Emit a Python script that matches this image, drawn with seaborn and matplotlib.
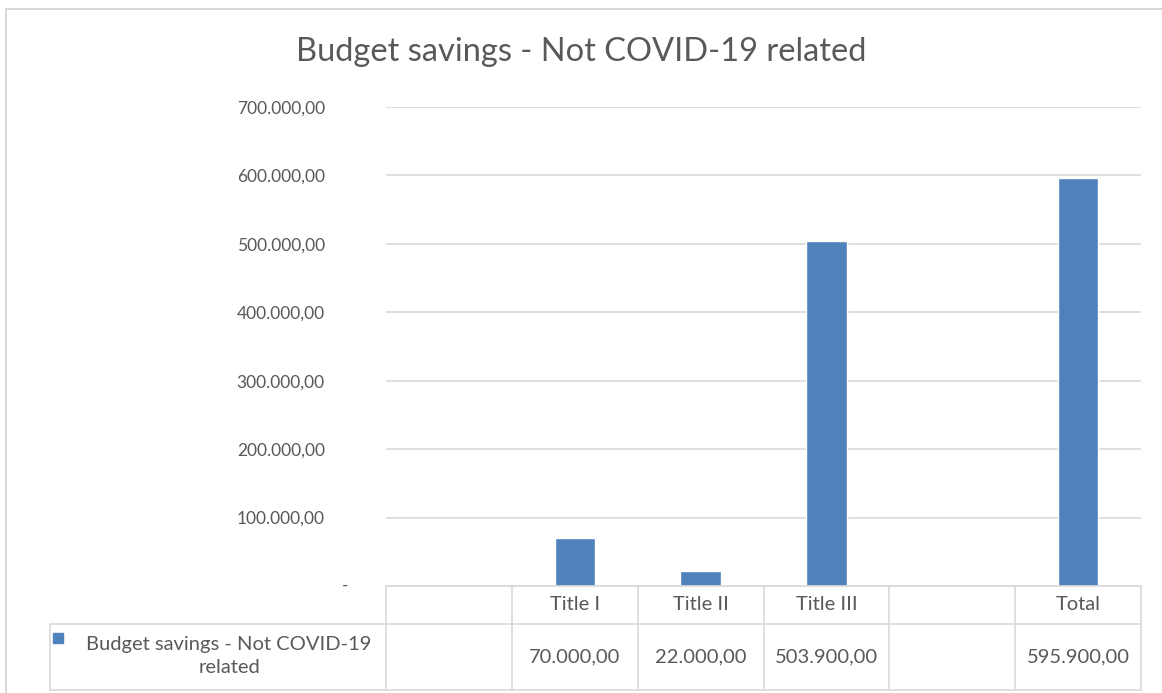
import matplotlib.pyplot as plt
import matplotlib.ticker as mticker
import numpy as np
import pandas as pd
import seaborn as sns
from matplotlib.patches import Rectangle

# data (blank category slots have no value)
categories = ["", "Title I", "Title II", "Title III", " ", "Total"]
savings = [np.nan, 70000.00, 22000.00, 503900.00, np.nan, 595900.00]
series_name = "Budget savings - Not COVID-19 related"
chart_title = "Budget savings - Not COVID-19 related"
y_ticks = [0, 100000, 200000, 300000, 400000, 500000, 600000, 700000]

TEXT = "#595959"
GRID = "#d9d9d9"
BAR = "#4f81bd"

sns.set_theme(style="white")
plt.rcParams["font.family"] = ["Lato", "DejaVu Sans"]


def eu_fmt(v, pos=None):
    if v == 0:
        return "-"
    s = f"{v:,.2f}"
    return s.replace(",", "X").replace(".", ",").replace("X", ".")


def tick_fmt(v, pos=None):
    # zero is drawn separately (Excel accounting dash sits closer to the axis)
    return "" if v == 0 else eu_fmt(v)


df = pd.DataFrame({"category": categories, "value": savings})

fig = plt.figure(figsize=(11.62, 6.93), dpi=100)
ax = fig.add_axes([386 / 1162, 1 - 586 / 693, 755 / 1162, 479 / 693])

sns.barplot(data=df, x="category", y="value", order=categories, color=BAR,
            width=0.32, saturation=1, ax=ax, errorbar=None)

ax.set_ylim(0, 700000)
ax.set_xlim(-0.5, len(categories) - 0.5)
ax.set_yticks(y_ticks)
ax.yaxis.set_major_formatter(mticker.FuncFormatter(tick_fmt))
ax.tick_params(axis="y", length=0, pad=44, labelsize=12.5, labelcolor=TEXT)
ax.set_xticks([])
ax.set_xlabel("")
ax.set_ylabel("")
ax.yaxis.grid(True, color=GRID, linewidth=1.2)
ax.set_axisbelow(True)
for sp in ax.spines.values():
    sp.set_visible(False)

ax.text((345 - 386) / 755, y_ticks[0], eu_fmt(y_ticks[0]),
        transform=ax.get_yaxis_transform(), ha="center", va="center",
        fontsize=12.5, color=TEXT)

fig.text(0.5, 1 - 52 / 693, chart_title, ha="center", va="center",
         fontsize=23.5, color=TEXT)

# data table below the plot
tr = ax.get_xaxis_transform()
row1 = -38 / 479
row2 = -104 / 479
legend_left = (50 - 386) / 755
n = len(categories)
lw = 1.2
ta = ax.transAxes
ax.plot([0, 1], [0, 0], transform=ta, color=GRID, lw=lw, clip_on=False)
ax.plot([legend_left, 1], [row1, row1], transform=ta, color=GRID, lw=lw, clip_on=False)
ax.plot([legend_left, 1], [row2, row2], transform=ta, color=GRID, lw=lw, clip_on=False)
ax.plot([legend_left, legend_left], [row1, row2], transform=ta, color=GRID, lw=lw, clip_on=False)
for i in range(n + 1):
    ax.plot([i - 0.5, i - 0.5], [0, row2], transform=tr, color=GRID, lw=lw, clip_on=False)

for i, (cat, val) in enumerate(zip(categories, savings)):
    ax.text(i, row1 / 2, cat.strip(), transform=tr, ha="center", va="center",
            fontsize=14.5, color=TEXT)
    if not np.isnan(val):
        ax.text(i, (row1 + row2) / 2, eu_fmt(val), transform=tr, ha="center",
                va="center", fontsize=14.5, color=TEXT)

# legend cell
ax.add_patch(Rectangle(((53 - 386) / 755, -(643 - 586) / 479), 10 / 755, 10 / 479,
                       transform=ta, color=BAR, clip_on=False))
words = series_name.split(" ")
ax.text((229 - 386) / 755, -(656 - 586) / 479,
        " ".join(words[:-1]) + "\n" + words[-1], transform=ta, ha="center",
        va="center", multialignment="center", fontsize=14.5, color=TEXT,
        linespacing=1.45)

# outer chart border
fig.patches.append(Rectangle((6 / 1162, -0.01), 1.0, 1 - 9 / 693 + 0.01,
                             transform=fig.transFigure, fill=False,
                             edgecolor=GRID, lw=1.5))

fig.savefig("out.png", dpi=100)
